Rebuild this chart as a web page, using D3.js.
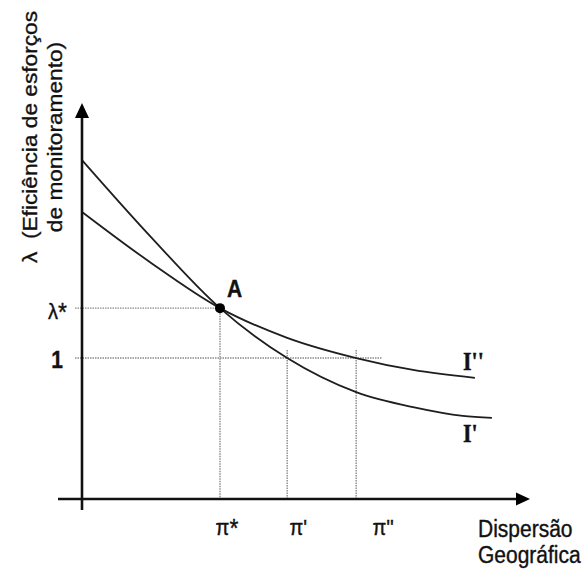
<!DOCTYPE html>
<html>
<head>
<meta charset="utf-8">
<script src="https://cdn.jsdelivr.net/npm/d3@7"></script>
<style>
  body { margin: 0; background: #fff; }
  text { font-family: "Liberation Sans", Arial, sans-serif; fill: #111; stroke: #111; stroke-width: 0.35; }
</style>
</head>
<body>
<script>
// curve I' (steeper) and I'' (flatter), in chart units
const curveIpX = [0, 1.52, 3.08, 4.58, 6.12, 7.39, 8.50, 9.15];
const curveIpY = [8.56, 6.64, 4.82, 3.56, 2.70, 2.32, 2.10, 2.05];
const curveIppX = [0, 1.52, 3.08, 4.58, 6.12, 7.39, 8.77];
const curveIppY = [7.25, 5.98, 4.82, 4.07, 3.56, 3.26, 3.06];

// point A and reference levels
const pointA = {x: 3.08, y: 4.82, name: "A"};
const yTicks = [4.82, 3.56];
const yTickLabels = ["λ*", "1"];
const xTicks = [3.08, 4.58, 6.12];
const xTickLabels = ["π*", "π'", "π''"];
const curveNames = ["I'", "I''"];
const yTitle = ["λ  (Eficiência de esforços", "de monitoramento)"];
const xTitle = ["Dispersão", "Geográfica"];

const W = 587, H = 569;
const svg = d3.select("body").append("svg")
  .attr("width", W).attr("height", H);

const x = d3.scaleLinear().domain([0, 10]).range([82, 530]);
const y = d3.scaleLinear().domain([0, 10]).range([499, 103]);

const x0 = x(0), y0 = y(0);

// dotted guide lines
const guide = svg.append("g")
  .attr("stroke", "#8a8a8a").attr("stroke-width", 1.4)
  .attr("stroke-dasharray", "1.5,1");
guide.append("line")
  .attr("x1", x0 - 7).attr("x2", x(pointA.x))
  .attr("y1", y(yTicks[0])).attr("y2", y(yTicks[0]));
guide.append("line")
  .attr("x1", x0 - 7).attr("x2", x(xTicks[2]) + 26)
  .attr("y1", y(yTicks[1])).attr("y2", y(yTicks[1]));
guide.append("line")
  .attr("x1", x(xTicks[0])).attr("x2", x(xTicks[0]))
  .attr("y1", y(pointA.y)).attr("y2", y0);
xTicks.slice(1).forEach(v => {
  guide.append("line")
    .attr("x1", x(v)).attr("x2", x(v))
    .attr("y1", y(yTicks[1]) - 8).attr("y2", y0);
});

// curves
const line = d3.line()
  .x(d => x(d[0])).y(d => y(d[1]))
  .curve(d3.curveMonotoneX);
const seriesIp = d3.zip(curveIpX, curveIpY);
const seriesIpp = d3.zip(curveIppX, curveIppY);
svg.selectAll(".curve")
  .data([seriesIp, seriesIpp])
  .enter().append("path")
  .attr("class", "curve")
  .attr("d", line)
  .attr("fill", "none")
  .attr("stroke", "#1e1e1e")
  .attr("stroke-width", 1.8);

// axes lines + arrows
svg.append("line")
  .attr("x1", x0 - 24).attr("x2", x(10) - 12)
  .attr("y1", y0).attr("y2", y0)
  .attr("stroke", "#111").attr("stroke-width", 2.6);
svg.append("line")
  .attr("x1", x0).attr("x2", x0)
  .attr("y1", y0 + 11).attr("y2", y(10) + 13)
  .attr("stroke", "#111").attr("stroke-width", 2.6);
svg.append("path")
  .attr("d", `M${x(10)},${y0} L${x(10) - 14},${y0 - 6.5} L${x(10) - 14},${y0 + 6.5} Z`)
  .attr("fill", "#000");
svg.append("path")
  .attr("d", `M${x0},${y(10)} L${x0 - 7},${y(10) + 15} L${x0 + 7},${y(10) + 15} Z`)
  .attr("fill", "#000");

// text helper, the source is a bit stretched vertically
function label(txt, px, py, opt = {}) {
  const t = svg.append("g")
    .attr("transform", `translate(${px},${py}) scale(1,1.1)`)
    .append("text")
    .attr("font-size", opt.size || 21)
    .attr("text-anchor", opt.anchor || "start");
  if (txt.endsWith("*")) {
    // asterisk sits lower, centred on the letter
    t.append("tspan").text(txt.slice(0, -1));
    t.append("tspan").attr("dy", 1.5).attr("font-size", (opt.size || 21) * 1.15).text("*");
  } else {
    t.text(txt);
  }
  if (opt.weight) t.attr("font-weight", opt.weight);
  if (opt.family) t.style("font-family", opt.family);
  return t;
}

// y tick labels
const yNudge = [[-15, 11], [-19, 10]];
yTicks.forEach((v, i) => {
  label(yTickLabels[i], x0 + yNudge[i][0], y(v) + yNudge[i][1],
    {anchor: "end", weight: i == 1 ? "bold" : null, size: i == 1 ? 21 : 20});
});

// x tick labels
const xNudge = [7, 11, 27];
xTicks.forEach((v, i) => {
  label(xTickLabels[i], x(v) + xNudge[i], 535, {anchor: "middle", size: 20});
});

// point A
svg.append("circle")
  .attr("cx", x(pointA.x)).attr("cy", y(pointA.y))
  .attr("r", 5).attr("fill", "#000");
label(pointA.name, x(pointA.x) + 7, y(pointA.y) - 11, {size: 21, weight: "bold"});

// curve labels
const serif = "'Liberation Serif', 'Times New Roman', serif";
label(curveNames[1], 463, 370, {family: serif, size: 22, weight: "bold"});
label(curveNames[0], 463, 442, {family: serif, size: 22, weight: "bold"});

// x title
label(xTitle[0], 478, 537);
label(xTitle[1], 478, 563);

// y title (rotated)
const yt = svg.append("g")
  .attr("transform", "translate(0,137) scale(1,1.08) rotate(-90)");
yt.append("text").attr("x", 0).attr("y", 37)
  .attr("font-size", 21).attr("text-anchor", "middle")
  .style("white-space", "pre")
  .text(yTitle[0]);
yt.append("text").attr("x", 0).attr("y", 62)
  .attr("font-size", 21).attr("text-anchor", "middle")
  .text(yTitle[1]);
</script>
</body>
</html>
